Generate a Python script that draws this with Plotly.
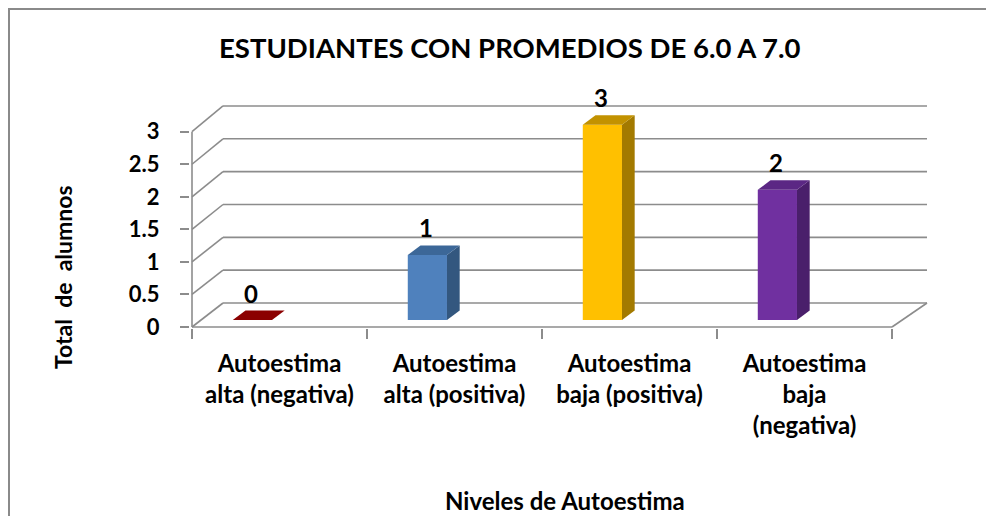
import plotly.graph_objects as go

# ---------------- data ----------------
categories = ["Autoestima<br>alta (negativa)", "Autoestima<br>alta (positiva)",
              "Autoestima<br>baja (positiva)", "Autoestima<br>baja<br>(negativa)"]
values = [0, 1, 3, 2]
y_ticks = [0, 0.5, 1, 1.5, 2, 2.5, 3]
y_tick_labels = ["0", "0.5", "1", "1.5", "2", "2.5", "3"]
title_text = "ESTUDIANTES CON PROMEDIOS DE 6.0 A 7.0"
x_title = "Niveles de Autoestima"
y_title = "Total\u00a0 de\u00a0 alumnos"

front_colors = ["#C00000", "#4F81BD", "#FFC000", "#7030A0"]
top_colors = ["#8B0000", "#3C6798", "#C29200", "#5B2784"]
side_colors = ["#7A0000", "#33577F", "#A37A00", "#4A1F6B"]

# ---------------- geometry (pseudo 3D) ----------------
OFF = 8                                    # page body margin
W, H = 994 - OFF, 516 - OFF
PL, PR, PT, PB = 190, 930, 95, 328          # plot area in window pixels
PXX, PXY = 175.0, 65.1                     # pixels per category / per unit
x0 = -0.5 - (192 - PL) / PXX
x1 = x0 + (PR - PL) / PXX
y0 = -(PB - 327) / PXY
y1 = y0 + (PB - PT) / PXY

n = len(values)
FRONT_L, FRONT_R = -0.5, n - 0.5
BACK_L, BACK_R = FRONT_L + 31 / PXX, FRONT_R + 35 / PXX
BACK_DY = 24 / PXY
BACK_SCALE = 65.67 / PXY


def back_y(v):
    return BACK_DY + v * BACK_SCALE


def px(xw):
    return (xw - PL) / (PR - PL)


def py(yw):
    return (PB - yw) / (PB - PT)


grid_color = "#8C8C8C"
segments = []
for v in y_ticks:
    segments.append((BACK_L, back_y(v), BACK_R, back_y(v)))   # back wall
    segments.append((FRONT_L, v, BACK_L, back_y(v)))           # side wall
segments.append((FRONT_L, 0, FRONT_R, 0))                      # floor front edge
segments.append((FRONT_R, 0, BACK_R, back_y(0)))               # floor right edge
segments.append((FRONT_L, 0, FRONT_L, max(y_ticks)))           # vertical axis

shapes = [dict(type="line", xref="x", yref="y", x0=a, y0=b, x1=c, y1=d,
               layer="below", line=dict(color=grid_color, width=1.6))
          for (a, b, c, d) in segments]

fig = go.Figure()

BAR_OFF = -0.155
BAR_W = 0.224
BASE = 7 / PXY
SX = 12.7 / PXX
SY = 9.5 / PXY

xs = [i + BAR_OFF for i in range(n)]
fig.add_trace(go.Bar(x=xs, y=values, base=[BASE] * n, width=[BAR_W] * n,
                     marker=dict(color=front_colors, line=dict(width=0)),
                     showlegend=False, hoverinfo="skip"))

annotations = []
for i, v in enumerate(values):
    xl = xs[i] - BAR_W / 2
    xr = xs[i] + BAR_W / 2
    yt = BASE + v
    fig.add_trace(go.Scatter(
        x=[xr, xr + SX, xr + SX, xr, xr], y=[BASE, BASE + SY, yt + SY, yt, BASE],
        mode="lines", fill="toself", fillcolor=side_colors[i],
        line=dict(width=0, color=side_colors[i]), showlegend=False, hoverinfo="skip"))
    fig.add_trace(go.Scatter(
        x=[xl, xr, xr + SX, xl + SX, xl], y=[yt, yt, yt + SY, yt + SY, yt],
        mode="lines", fill="toself", fillcolor=top_colors[i],
        line=dict(width=0, color=top_colors[i]), showlegend=False, hoverinfo="skip"))
    annotations.append(dict(
        x=xs[i] - 0.01, y=yt + SY, xref="x", yref="y", text="<b>%g</b>" % v,
        showarrow=False, xanchor="center", yanchor="bottom", yshift=1,
        font=dict(size=24, color="black", family="Lato")))

annotations.append(dict(
    x=px(63), y=py(277), xref="paper", yref="paper",
    xanchor="center", yanchor="middle",
    text="<b>%s</b>" % y_title, textangle=-90, showarrow=False,
    font=dict(size=23, color="black", family="Lato")))
annotations.append(dict(
    x=px(565), y=py(500), xref="paper", yref="paper",
    xanchor="center", yanchor="middle",
    text="<b>%s</b>" % x_title, showarrow=False,
    font=dict(size=24, color="black", family="Lato")))
annotations.append(dict(
    x=px(510), y=py(48), xref="paper", yref="paper",
    xanchor="center", yanchor="middle",
    text="<b>%s</b>" % title_text, showarrow=False,
    font=dict(size=27.5, color="black", family="Lato")))

shapes.append(dict(type="path", xref="paper", yref="paper",
                   path="M %f,%f L %f,%f L %f,%f" % (
                       px(9), py(530), px(9), py(9), px(1000), py(9)),
                   line=dict(color="#8A8A8A", width=2)))

fig.update_layout(
    width=W, height=H,
    margin=dict(l=PL - OFF, r=994 - PR, t=PT - OFF, b=516 - PB, pad=0),
    paper_bgcolor="white", plot_bgcolor="rgba(0,0,0,0)",
    showlegend=False,
    annotations=annotations,
    shapes=shapes,
    xaxis=dict(range=[x0, x1], showgrid=False, zeroline=False, showline=False,
               tickvals=list(range(n)), ticktext=["<b>%s</b>" % c for c in categories],
               ticks="", tickfont=dict(size=24, color="black", family="Lato"),
               ticklabelstandoff=19,
               minor=dict(tickvals=[i - 0.5 for i in range(n + 1)], ticks="outside",
                          ticklen=10, tickwidth=1.6, tickcolor=grid_color)),
    yaxis=dict(range=[y0, y1], showgrid=False, zeroline=False, showline=False,
               tickvals=y_ticks, ticktext=["<b>%s</b>" % t for t in y_tick_labels],
               ticks="outside", ticklen=9, tickwidth=1.6, tickcolor=grid_color,
               tickfont=dict(size=22, color="black", family="Lato"),
               ticklabelstandoff=16),
    font=dict(family="Lato"),
)

fig.write_html("out.html")
